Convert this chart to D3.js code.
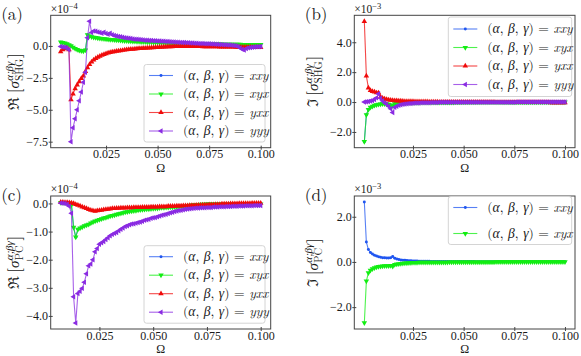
<!DOCTYPE html>
<html><head><meta charset="utf-8">
<script src="https://cdn.jsdelivr.net/npm/d3@7/dist/d3.min.js"></script>
<style>
html,body{margin:0;padding:0;background:#fff;}
svg{display:block;}
</style></head><body>
<svg id="fig" width="581" height="356"></svg>
<script>
// ---------- shared data ----------
const omega = [
 0.001,0.002,0.003,0.004,0.005,0.006,0.007,0.008,0.009,0.010,
 0.011,0.012,0.013,0.014,0.015,0.016,0.017,0.018,0.019,0.020,
 0.021,0.022,0.023,0.024,0.025,0.026,0.027,0.028,0.029,0.030,
 0.031,0.032,0.033,0.034,0.035,0.036,0.037,0.038,0.039,0.040,
 0.041,0.042,0.043,0.044,0.045,0.046,0.047,0.048,0.049,0.050,
 0.051,0.052,0.053,0.054,0.055,0.056,0.057,0.058,0.059,0.060,
 0.061,0.062,0.063,0.064,0.065,0.066,0.067,0.068,0.069,0.070,
 0.071,0.072,0.073,0.074,0.075,0.076,0.077,0.078,0.079,0.080,
 0.081,0.082,0.083,0.084,0.085,0.086,0.087,0.088,0.089,0.090,
 0.091,0.092,0.093,0.094,0.095,0.096,0.097,0.098,0.099,0.100];
const omegaA = omega.slice(2);   // 0.003 .. 0.100
const omegaC = omega.slice(6);   // 0.007 .. 0.100
const xTickValues = [0.025, 0.05, 0.075, 0.1];
const xTickLabels = ["0.025", "0.050", "0.075", "0.100"];
const componentNames = ["xxy", "xyx", "yxx", "yyy"];

// ---------- (a) Re sigma_SHG  (x 1e-4) ----------
const shgReXYX = [
 0.30,0.26,0.22,0.16,0.08,0.00,-0.10,-0.20,
 -0.28,-0.34,-0.38,-0.40,-0.32,0.88,0.78,0.72,0.68,0.65,
 0.62,0.60,0.58,0.56,0.54,0.52,0.50,0.49,0.47,0.46,
 0.45,0.44,0.42,0.41,0.40,0.39,0.38,0.37,0.36,0.35,
 0.34,0.33,0.33,0.32,0.31,0.30,0.30,0.29,0.28,0.28,
 0.27,0.26,0.26,0.25,0.25,0.24,0.23,0.23,0.22,0.22,
 0.21,0.21,0.20,0.20,0.19,0.19,0.18,0.18,0.18,0.17,
 0.17,0.16,0.16,0.16,0.15,0.15,0.15,0.14,0.14,0.14,
 0.14,0.13,0.13,0.13,0.13,0.12,0.12,0.12,0.12,0.12,
 0.11,0.11,0.11,0.11,0.11,0.10,0.10,0.10,0.10,0.10];
const shgReXXY = shgReXYX; // xxy coincides with xyx (hidden underneath)
const shgReYXX = [
 -0.45,-0.30,-0.22,-0.18,-0.30,-4.20,-3.75,-3.35,
 -3.05,-2.80,-2.55,-2.35,-2.00,-1.70,-1.45,-1.25,-1.10,-0.98,
 -0.88,-0.80,-0.72,-0.66,-0.60,-0.55,-0.51,-0.47,-0.44,-0.41,
 -0.38,-0.36,-0.34,-0.32,-0.30,-0.28,-0.26,-0.25,-0.23,-0.22,
 -0.20,-0.19,-0.18,-0.17,-0.16,-0.15,-0.14,-0.13,-0.12,-0.11,
 -0.10,-0.09,-0.08,-0.07,-0.06,-0.05,-0.05,-0.04,-0.04,-0.03,
 -0.03,-0.03,-0.03,-0.03,-0.03,-0.03,-0.03,-0.04,-0.04,-0.04,
 -0.04,-0.05,-0.05,-0.05,-0.05,-0.06,-0.06,-0.06,-0.06,-0.07,
 -0.07,-0.07,-0.07,-0.08,-0.08,-0.08,-0.08,-0.09,-0.09,-0.09,
 -0.09,-0.10,-0.10,-0.10,-0.10,-0.11,-0.11,-0.11,-0.12,-0.12];
const shgReYYY = [
 -0.05,-0.08,-0.10,-0.15,-0.30,-7.50,-6.40,-5.70,
 -5.00,-4.30,-3.60,-2.85,-2.06,0.64,1.93,1.05,1.18,1.15,
 1.10,1.05,1.00,1.08,0.98,0.92,1.00,0.88,0.82,0.78,
 0.74,0.72,0.68,0.65,0.62,0.60,0.58,0.55,0.53,0.52,
 0.50,0.48,0.47,0.45,0.44,0.43,0.42,0.41,0.40,0.39,
 0.38,0.37,0.36,0.35,0.34,0.33,0.32,0.31,0.30,0.29,
 0.28,0.27,0.27,0.26,0.25,0.24,0.23,0.22,0.21,0.20,
 0.20,0.19,0.18,0.18,0.17,0.16,0.15,0.14,0.13,0.12,
 0.11,0.10,0.09,0.08,0.07,0.06,0.04,0.02,-0.05,-0.15,
 -0.25,-0.32,-0.20,-0.15,-0.12,-0.10,-0.08,-0.07,-0.06,-0.05];
const shgReYTicks = [-7.5, -5, -2.5, 0];
const shgReYTickLabels = ["\u22127.5", "\u22125.0", "\u22122.5", "0.0"];

// ---------- (b) Im sigma_SHG  (x 1e-3) ----------
const shgImXYX = [
 -2.65,-0.85,-0.50,-0.36,-0.28,-0.22,-0.18,-0.15,-0.13,-0.12,
 -0.12,-0.13,-0.15,-0.20,-0.25,-0.12,-0.09,-0.07,-0.06,-0.05,
 -0.05,-0.04,-0.04,-0.04,-0.03,-0.03,-0.03,-0.03,-0.02,-0.02,
 -0.02,-0.02,-0.02,-0.02,-0.02,-0.02,-0.02,-0.02,-0.02,-0.02,
 -0.02,-0.02,-0.02,-0.02,-0.02,-0.01,-0.01,-0.01,-0.01,-0.01,
 -0.01,-0.01,-0.01,-0.01,-0.01,-0.01,-0.01,-0.01,-0.01,-0.01,
 -0.01,-0.01,-0.01,-0.01,-0.01,-0.01,-0.01,-0.01,-0.01,-0.01,
 -0.01,-0.01,-0.01,-0.01,0.00,0.00,0.00,0.00,0.00,0.00,
 0.00,0.00,0.00,0.00,0.00,0.00,0.00,0.00,0.00,0.00,
 0.00,0.00,0.00,0.00,0.00,0.00,0.00,0.00,0.00,0.00];
const shgImXXY = shgImXYX; // hidden underneath xyx
const shgImYXX = [
 5.40,1.75,0.95,0.78,0.72,0.68,0.62,0.62,0.35,0.26,
 0.21,0.17,0.15,0.13,0.11,0.10,0.09,0.08,0.07,0.06,
 0.05,0.05,0.04,0.04,0.04,0.03,0.03,0.03,0.02,0.02,
 0.02,0.02,0.01,0.01,0.01,0.01,0.01,0.00,0.00,0.00,
 0.00,0.00,0.00,0.00,0.00,0.00,0.00,0.00,0.00,0.00,
 0.00,0.00,0.00,0.00,0.00,-0.01,-0.01,-0.01,-0.01,-0.01,
 -0.01,-0.01,-0.01,-0.01,-0.01,-0.02,-0.02,-0.02,-0.02,-0.02,
 -0.02,-0.02,-0.02,-0.02,-0.02,-0.02,-0.02,-0.02,-0.02,-0.02,
 -0.02,-0.02,-0.03,-0.03,-0.03,-0.03,-0.03,-0.03,-0.03,-0.03,
 -0.03,-0.03,-0.04,-0.04,-0.04,-0.04,-0.04,-0.04,-0.04,-0.04];
const shgImYYY = [
 0.00,0.02,0.04,0.07,0.11,0.17,0.28,0.55,0.25,0.08,
 -0.05,-0.15,-0.28,-0.45,-0.70,-0.35,-0.28,-0.22,-0.18,-0.15,
 -0.13,-0.11,-0.10,-0.09,-0.08,-0.07,-0.06,-0.06,-0.05,-0.05,
 -0.04,-0.04,-0.04,-0.03,-0.03,-0.03,-0.03,-0.02,-0.02,-0.02,
 -0.02,-0.02,-0.02,-0.02,-0.02,-0.02,-0.02,-0.01,-0.01,-0.01,
 -0.01,-0.01,-0.01,-0.01,-0.01,-0.01,-0.01,-0.01,-0.01,-0.01,
 -0.01,-0.01,-0.01,-0.01,-0.01,-0.01,-0.01,-0.01,-0.01,-0.01,
 -0.01,-0.01,-0.01,-0.01,-0.01,0.00,0.00,0.00,0.00,0.00,
 0.00,0.00,0.00,0.00,0.00,0.00,0.00,0.00,0.00,0.00,
 0.00,0.00,0.00,0.00,0.00,0.00,0.00,0.00,0.00,0.00];
const shgImYTicks = [-2, 0, 2, 4];
const shgImYTickLabels = ["\u22122.0", "0.0", "2.0", "4.0"];

// ---------- (c) Re sigma_PC  (x 1e-4) ----------
const pcReXYX = [
 0.03,0.03,0.02,0.02,
 0.01,-0.05,-0.85,-1.20,-0.92,-0.88,-0.84,-0.80,-0.77,-0.74,
 -0.70,-0.66,-0.63,-0.60,-0.57,-0.55,-0.52,-0.50,-0.48,-0.45,
 -0.43,-0.41,-0.39,-0.37,-0.35,-0.33,-0.31,-0.30,-0.28,-0.27,
 -0.26,-0.25,-0.24,-0.23,-0.22,-0.21,-0.20,-0.20,-0.19,-0.18,
 -0.17,-0.17,-0.16,-0.15,-0.15,-0.14,-0.14,-0.13,-0.13,-0.12,
 -0.12,-0.11,-0.10,-0.10,-0.09,-0.08,-0.07,-0.06,-0.05,-0.04,
 -0.04,-0.03,-0.03,-0.03,-0.02,-0.02,-0.02,-0.02,-0.02,-0.02,
 -0.02,-0.02,-0.02,-0.02,-0.02,-0.02,-0.02,-0.02,-0.02,-0.02,
 -0.02,-0.02,-0.02,-0.02,-0.02,-0.02,-0.02,-0.02,-0.02,-0.02];
const pcReXXY = pcReXYX; // hidden underneath xyx
const pcReYXX = [
 0.05,0.05,0.04,0.04,
 0.03,0.02,0.00,-0.03,-0.06,-0.09,-0.12,-0.15,-0.18,-0.21,
 -0.24,-0.26,-0.27,-0.26,-0.25,-0.24,-0.22,-0.21,-0.20,-0.19,
 -0.18,-0.18,-0.17,-0.17,-0.16,-0.16,-0.16,-0.15,-0.15,-0.15,
 -0.14,-0.14,-0.14,-0.14,-0.13,-0.13,-0.13,-0.13,-0.12,-0.12,
 -0.12,-0.12,-0.11,-0.11,-0.11,-0.11,-0.10,-0.10,-0.10,-0.10,
 -0.09,-0.09,-0.09,-0.08,-0.08,-0.08,-0.07,-0.07,-0.07,-0.06,
 -0.06,-0.06,-0.05,-0.05,-0.05,-0.04,-0.04,-0.04,-0.03,-0.03,
 -0.03,-0.02,-0.02,-0.02,-0.02,-0.01,-0.01,-0.01,-0.01,0.00,
 0.00,0.00,0.00,0.00,0.00,0.01,0.01,0.01,0.01,0.01];
const pcReYYY = [
 0.02,0.01,0.00,-0.03,
 -0.10,-0.35,-3.32,-4.25,-3.20,-3.12,-3.02,-2.80,-2.50,-2.22,
 -2.15,-2.00,-1.72,-1.60,-1.45,-1.40,-1.35,-1.28,-1.22,-1.15,
 -1.10,-1.06,-1.03,-0.97,-0.92,-0.87,-0.82,-0.79,-0.76,-0.73,
 -0.72,-0.70,-0.68,-0.66,-0.63,-0.60,-0.58,-0.56,-0.53,-0.51,
 -0.50,-0.47,-0.45,-0.42,-0.40,-0.38,-0.36,-0.33,-0.31,-0.29,
 -0.27,-0.25,-0.24,-0.22,-0.21,-0.20,-0.19,-0.18,-0.17,-0.16,
 -0.16,-0.15,-0.15,-0.15,-0.14,-0.14,-0.14,-0.13,-0.13,-0.13,
 -0.12,-0.12,-0.12,-0.11,-0.11,-0.11,-0.10,-0.10,-0.10,-0.09,
 -0.09,-0.09,-0.08,-0.08,-0.08,-0.08,-0.07,-0.07,-0.07,-0.07];
const pcReYTicks = [-4, -3, -2, -1, 0];
const pcReYTickLabels = ["\u22124.0", "\u22123.0", "\u22122.0", "\u22121.0", "0.0"];

// ---------- (d) Im sigma_PC  (x 1e-3) ----------
const pcImXXY = [
 2.65,0.88,0.55,0.42,0.35,0.30,0.26,0.23,0.21,0.19,
 0.18,0.17,0.17,0.18,0.24,0.16,0.13,0.11,0.09,0.08,
 0.07,0.06,0.05,0.05,0.04,0.04,0.04,0.03,0.03,0.03,
 0.03,0.03,0.03,0.02,0.02,0.02,0.02,0.02,0.02,0.02,
 0.02,0.02,0.02,0.02,0.02,0.02,0.02,0.02,0.02,0.02,
 0.02,0.02,0.02,0.02,0.02,0.01,0.01,0.01,0.01,0.01,
 0.01,0.01,0.01,0.01,0.01,0.01,0.01,0.01,0.01,0.01,
 0.01,0.01,0.01,0.01,0.01,0.01,0.01,0.01,0.01,0.01,
 0.01,0.01,0.01,0.01,0.01,0.01,0.01,0.01,0.01,0.01,
 0.01,0.01,0.01,0.01,0.01,0.01,0.01,0.01,0.01,0.01];
const pcImXYX = [
 -2.70,-0.85,-0.48,-0.37,-0.30,-0.26,-0.23,-0.21,-0.19,-0.18,
 -0.17,-0.17,-0.17,-0.16,-0.20,-0.12,-0.10,-0.08,-0.07,-0.06,
 -0.05,-0.05,-0.04,-0.04,-0.03,-0.03,-0.03,-0.02,-0.02,-0.02,
 -0.02,-0.02,-0.02,-0.02,-0.02,-0.02,-0.02,-0.02,-0.02,-0.02,
 -0.02,-0.02,-0.01,-0.01,-0.01,-0.01,-0.01,-0.01,-0.01,-0.01,
 -0.01,-0.01,-0.01,-0.01,-0.01,-0.01,-0.01,-0.01,-0.01,-0.01,
 -0.01,-0.01,-0.01,-0.01,-0.01,0.00,0.00,0.00,0.00,0.00,
 0.00,0.00,0.00,0.00,0.00,0.00,0.00,0.00,0.00,0.00,
 0.00,0.00,0.00,0.00,0.00,0.00,0.00,0.00,0.00,0.00,
 0.00,0.00,0.00,0.00,0.00,0.00,0.00,0.00,0.00,0.00];
const pcImYTicks = [-2, 0, 2];
const pcImYTickLabels = ["\u22122.0", "0.0", "2.0"];

// ---------- styles ----------
const FONT = "'Latin Modern Roman','Liberation Serif',serif";
const TICKFONT = "'Liberation Serif','Latin Modern Roman',serif";
const TXT = "#1a1a1a";
const styles = {
  xxy: {color: "#1f55f0", marker: "dot", rot: 0},
  xyx: {color: "#12ee12", marker: "tri", rot: 180},
  yxx: {color: "#f00a0a", marker: "tri", rot: 0},
  yyy: {color: "#8a2be2", marker: "tri", rot: -90}
};
const markerD = {
  dot: d3.symbol(d3.symbolCircle, 7)(),
  tri: d3.symbol(d3.symbolTriangle, 13)()
};

const panels = [
  {tag: "(a)", box: [50.7, 15.3, 270.7, 147.7], x: omegaA,
   series: [shgReXXY, shgReXYX, shgReYXX, shgReYYY], names: componentNames,
   yTicks: shgReYTicks, yLabels: shgReYTickLabels, exp: "\u22124",
   ylab: {sym: "\u211C", sup: "\u03B1;\u03B2\u03B3", sub: "SHG"}, ylabX: 19,
   legend: {x: 144, y: 64.5, w: 121, pad: 11, step: 18.5}},
  {tag: "(b)", box: [354.3, 15.3, 575, 147.7], x: omega,
   series: [shgImXXY, shgImXYX, shgImYXX, shgImYYY], names: componentNames,
   yTicks: shgImYTicks, yLabels: shgImYTickLabels, exp: "\u22123",
   ylab: {sym: "\u2111", sup: "\u03B1;\u03B2\u03B3", sub: "SHG"}, ylabX: 318,
   legend: {x: 448.3, y: 17, w: 123.4, pad: 12, step: 18.5}},
  {tag: "(c)", box: [50.7, 196, 270.7, 329], x: omegaC,
   series: [pcReXXY, pcReXYX, pcReYXX, pcReYYY], names: componentNames,
   yTicks: pcReYTicks, yLabels: pcReYTickLabels, exp: "\u22124",
   ylab: {sym: "\u211C", sup: "\u03B1;\u03B2\u03B3", sub: "PC"}, ylabX: 19,
   legend: {x: 144, y: 245.7, w: 121, pad: 11, step: 18.5}},
  {tag: "(d)", box: [354.3, 196, 575, 329], x: omega,
   series: [pcImXXY, pcImXYX], names: ["xxy", "xyx"],
   yTicks: pcImYTicks, yLabels: pcImYTickLabels, exp: "\u22123",
   ylab: {sym: "\u2111", sup: "\u03B1;\u03B2\u03B3", sub: "PC"}, ylabX: 318,
   legend: {x: 448.3, y: 196.5, w: 123.4, pad: 11, step: 26}}
];

const svg = d3.select("#fig").attr("font-family", FONT);
const SPINE = "#444";

function yLabel(g, cx, cy, lab) {
  const lg = g.append("g").attr("transform", `translate(${cx},${cy}) rotate(-90)`);
  let pos = 0;
  const put = (txt, fs, opts = {}) => {
    const t = lg.append("text").attr("x", pos).attr("y", opts.dy || 0)
      .attr("font-size", fs).attr("font-family", FONT).attr("fill", TXT).text(txt);
    if (opts.italic) t.attr("font-style", "italic");
    return t.node().getComputedTextLength();
  };
  pos += put(lab.sym, 15);
  pos += 3.5;
  pos += put("[", 17, {dy: 1});
  pos += put("\u03C3", 15, {italic: true}) + 0.5;
  const w1 = put(lab.sup, 11, {italic: true, dy: -6});
  const w2 = put(lab.sub, 10.5, {dy: 4});
  pos += Math.max(w1, w2) + 0.8;
  pos += put("]", 17, {dy: 1});
  const total = pos;
  lg.selectAll("text").attr("x", function () { return +this.getAttribute("x") - total / 2; });
}

function legendText(t, name) {
  const parts = [["(", 0], ["\u03B1", 1], [", ", 0], ["\u03B2", 1], [", ", 0], ["\u03B3", 1], [") = ", 0], [name, 1]];
  parts.forEach(([s, it]) => {
    const ts = t.append("tspan").text(s);
    if (it) ts.attr("font-style", "italic");
  });
}

panels.forEach(p => {
  const g = svg.append("g");
  const [x0, y0, x1, y1] = p.box;
  const xe = d3.extent(p.x), xp = (xe[1] - xe[0]) * 0.05;
  const x = d3.scaleLinear().domain([xe[0] - xp, xe[1] + xp]).range([x0, x1]);
  const ye = d3.extent(p.series.flat()), yp = (ye[1] - ye[0]) * 0.05;
  const y = d3.scaleLinear().domain([ye[0] - yp, ye[1] + yp]).range([y1, y0]);

  const clipId = "clip" + p.tag.replace(/\W/g, "");
  svg.append("clipPath").attr("id", clipId).append("rect")
    .attr("x", x0).attr("y", y0).attr("width", x1 - x0).attr("height", y1 - y0);
  const plot = g.append("g").attr("clip-path", `url(#${clipId})`);

  p.series.forEach((vals, k) => {
    const st = styles[p.names[k]];
    const data = p.x.map((xv, i) => [xv, vals[i]]);
    plot.append("path").datum(data)
      .attr("d", d3.line().x(d => x(d[0])).y(d => y(d[1])))
      .attr("fill", "none").attr("stroke", st.color).attr("stroke-opacity", 0.75)
      .attr("stroke-width", 1.1);
    plot.append("g").selectAll("path").data(data).join("path")
      .attr("transform", d => `translate(${x(d[0])},${y(d[1])}) rotate(${st.rot})`)
      .attr("d", markerD[st.marker]).attr("fill", st.color);
  });

  // frame
  g.append("rect").attr("x", x0).attr("y", y0).attr("width", x1 - x0).attr("height", y1 - y0)
    .attr("fill", "none").attr("stroke", SPINE).attr("stroke-width", 1);

  // x axis
  const xa = g.append("g").attr("transform", `translate(0,${y1})`)
    .call(d3.axisBottom(x).tickValues(xTickValues).tickFormat((d, i) => xTickLabels[i])
      .tickSizeOuter(0).tickSize(2));
  xa.select(".domain").remove();
  xa.attr("font-size", 12).attr("font-family", TICKFONT);
  xa.selectAll("line").attr("y1", -2).attr("y2", 2).attr("stroke", SPINE);
  xa.selectAll("text").attr("y", 2).attr("dy", "0.71em").attr("fill", TXT).attr("font-family", TICKFONT);

  // y axis
  const ya = g.append("g").attr("transform", `translate(${x0},0)`)
    .call(d3.axisLeft(y).tickValues(p.yTicks).tickFormat((d, i) => p.yLabels[i])
      .tickSizeOuter(0).tickSize(2));
  ya.select(".domain").remove();
  ya.attr("font-size", 12).attr("font-family", TICKFONT);
  ya.selectAll("line").attr("x1", 2).attr("x2", -2).attr("stroke", SPINE);
  ya.selectAll("text").attr("x", -2.6).attr("dy", "0.32em").attr("fill", TXT).attr("font-family", TICKFONT);

  // offset text
  const ot = g.append("text").attr("x", x0).attr("y", y0 - 2.6).attr("font-size", 11.5)
    .attr("font-family", TICKFONT).attr("fill", TXT);
  ot.append("tspan").text("\u00D710");
  ot.append("tspan").attr("font-size", 8.5).attr("dy", -4).text(p.exp);

  // axis labels
  g.append("text").attr("x", (x0 + x1) / 2).attr("y", y1 + 24.3).attr("text-anchor", "middle")
    .attr("font-size", 12).attr("font-family", TICKFONT).attr("fill", TXT).text("\u03A9");
  yLabel(g, p.ylabX, (y0 + y1) / 2, p.ylab);

  // panel tag
  g.append("text").attr("x", x0 - 49.5).attr("y", y0 + 4.5).attr("font-size", 17)
    .attr("font-family", FONT).attr("fill", TXT).text(p.tag);

  // legend
  const L = p.legend;
  const n = p.series.length;
  const h = L.pad * 2 + L.step * (n - 1);
  const lg = g.append("g");
  lg.append("rect").attr("x", L.x).attr("y", L.y).attr("width", L.w).attr("height", h)
    .attr("rx", 2.5).attr("fill", "#fff").attr("fill-opacity", 0.8)
    .attr("stroke", "#d4d4d4").attr("stroke-width", 1);
  p.names.forEach((nm, k) => {
    const st = styles[nm];
    const cy = L.y + L.pad + k * L.step;
    lg.append("line").attr("x1", L.x + 5).attr("x2", L.x + 29).attr("y1", cy).attr("y2", cy)
      .attr("stroke", st.color).attr("stroke-opacity", 0.75).attr("stroke-width", 1.1);
    lg.append("path").attr("transform", `translate(${L.x + 17},${cy}) rotate(${st.rot})`)
      .attr("d", markerD[st.marker]).attr("fill", st.color);
    const t = lg.append("text").attr("x", L.x + 39).attr("y", cy + 4).attr("font-size", 13.6)
      .attr("font-family", FONT).attr("fill", TXT);
    legendText(t, nm);
  });
});
</script>
</body></html>
